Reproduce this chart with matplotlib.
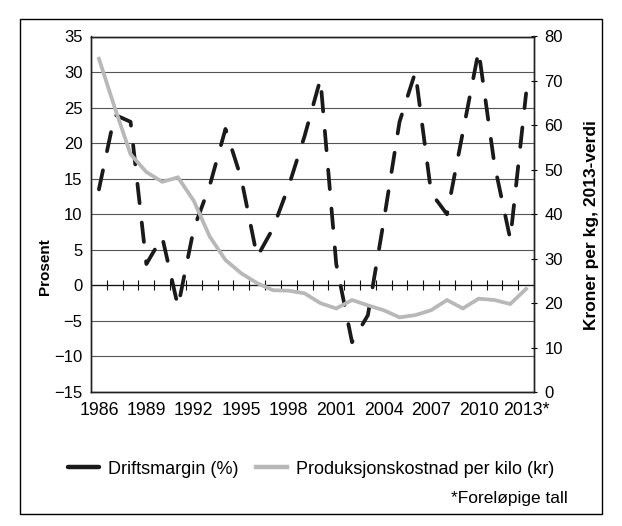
import matplotlib
matplotlib.use("Agg")
import matplotlib.pyplot as plt
import numpy as np
from matplotlib.patches import Rectangle

plt.rcParams['font.family'] = ['Liberation Sans', 'DejaVu Sans']

years = [str(y) for y in range(1986, 2013)] + ["2013*"]
driftsmargin = [13.5, 24, 23, 3, 6.8, -3, 8, 14, 22, 15, 4, 8, 14, 21, 29, 3,
                -8, -4.2, 9, 23, 30, 13, 10, 21.5, 33, 17, 6.5, 27]
kostnad = [75, 64, 53.5, 49.5, 47.3, 48.3, 43, 35, 29.7, 26.7, 24.5, 22.9, 22.8,
           22.2, 20, 18.8, 20.7, 19.5, 18.4, 16.8, 17.3, 18.4, 20.7, 18.8, 21.0,
           20.7, 19.8, 23.2]
left_ticks = [-15, -10, -5, 0, 5, 10, 15, 20, 25, 30, 35]
right_ticks = [0, 10, 20, 30, 40, 50, 60, 70, 80]

W, H = 622, 526
fig = plt.figure(figsize=(W / 100, H / 100), dpi=100)
L, R, T, B = 91, 534, 36.5, 392
ax = fig.add_axes([L / W, 1 - B / H, (R - L) / W, (B - T) / H])
x = np.arange(len(years))

ax.set_xlim(-0.5, len(years) - 0.5)
ax.set_ylim(-15, 35)
ax.set_yticks(left_ticks)
ax.yaxis.grid(True, color='#555555', lw=0.8)
ax.set_axisbelow(True)
ax.tick_params(axis='y', length=0, labelsize=12, pad=6)
ax.set_xticks(x[::3])
ax.set_xticklabels([years[i] for i in range(0, len(years), 3)])
ax.tick_params(axis='x', length=0, labelsize=12.8, pad=7)
for s in ax.spines.values():
    s.set_color('#222222')
    s.set_linewidth(1.0)

ax.plot(x, driftsmargin, color='#1a1a1a', lw=2.7, dashes=(5.2, 5.2),
        dash_capstyle='round', solid_capstyle='round', label='Driftsmargin (%)')
ax.axhline(0, color='#111111', lw=0.9, zorder=1.5)

# category tick marks at the zero line
sec = ax.secondary_xaxis(15 / 50)
sec.set_xticks(np.arange(len(years) + 1) - 0.5)
sec.set_xticklabels([])
sec.tick_params(direction='inout', length=7, width=0.8, color='#111111')
sec.spines['bottom'].set_visible(False)

ax.set_ylabel('Prosent', fontsize=11, fontweight='bold')
ax.yaxis.set_label_coords(-0.088, 0.354)

ax2 = ax.twinx()
ax2.set_ylim(0, 80)
ax2.set_yticks(right_ticks)
ax2.tick_params(axis='y', direction='inout', length=5, width=0.8, labelsize=12, pad=5)
ax2.plot(x, kostnad, color='#b8b8b8', lw=2.7, solid_joinstyle='miter',
         label='Produksjonskostnad per kilo (kr)')
for s in ax2.spines.values():
    s.set_color('#222222')
    s.set_linewidth(1.0)
ax2.set_ylabel('Kroner per kg, 2013-verdi', fontsize=12.5, fontweight='bold')
ax2.yaxis.set_label_coords(1.112, 0.47)

h1, l1 = ax.get_legend_handles_labels()
h2, l2 = ax2.get_legend_handles_labels()
leg = fig.legend(h1 + h2, l1 + l2, loc='center', bbox_to_anchor=(311 / W, 1 - 469 / H),
                 ncol=2, frameon=False, fontsize=13, handlelength=1.7,
                 columnspacing=1.0, handletextpad=0.5)
for lh in leg.get_lines():
    lh.set_linestyle('-')
    lh.set_linewidth(3.2)

fig.text(568 / W, 1 - 499 / H, '*Foreløpige tall', ha='right', va='center', fontsize=12.5)

fig.patches.append(Rectangle((20 / W, 12 / H), 582 / W, 495 / H, transform=fig.transFigure,
                             fill=False, edgecolor='black', lw=1.0))

fig.savefig('out.png', dpi=100)
